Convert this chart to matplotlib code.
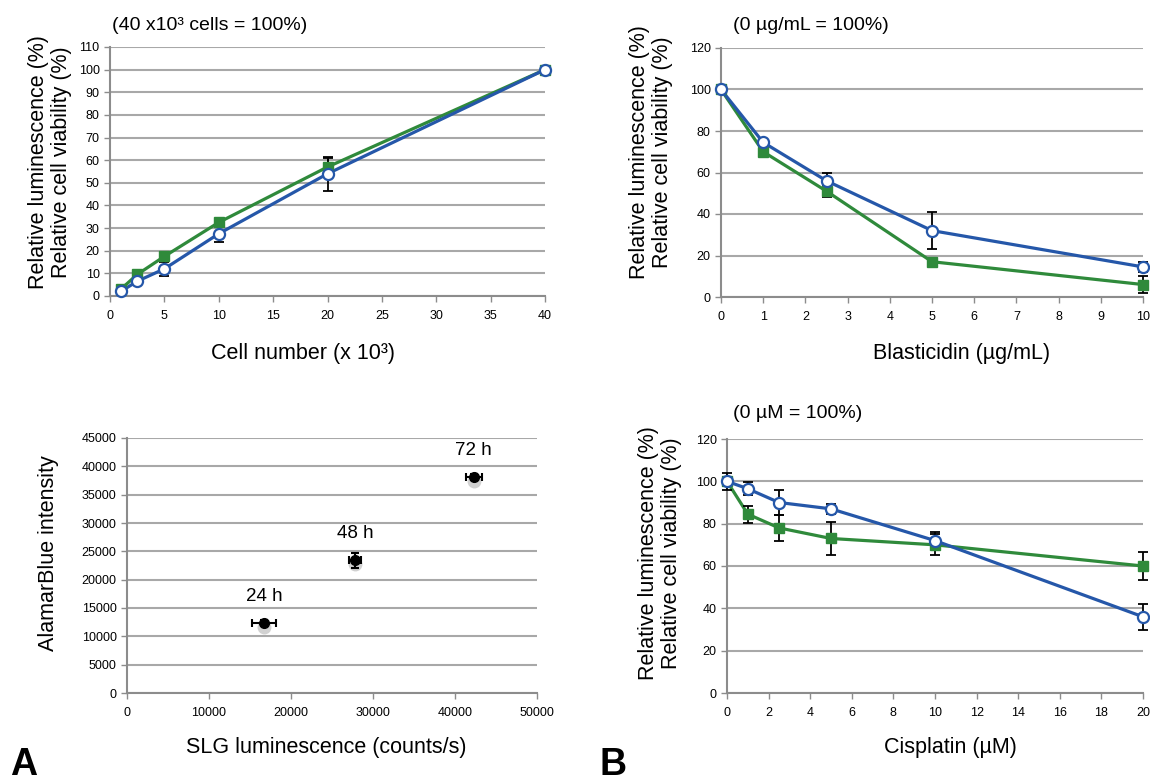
import matplotlib
matplotlib.use("Agg")
import matplotlib.pyplot as plt
from matplotlib.ticker import MultipleLocator

plt.rcParams['font.family'] = ['Liberation Sans', 'DejaVu Sans']

# Panel A top: cell number
cells = [1, 2.5, 5, 10, 20, 40]
cells_lum = [3, 9.5, 17.5, 32.5, 57, 100]
cells_lum_err = [0.5, 0.5, 1, 1, 4, 0]
cells_via = [2, 6.5, 12, 27.5, 54, 100]
cells_via_err = [0.5, 0.5, 3, 3.5, 7.5, 0]

# Panel A bottom: AlamarBlue vs SLG
hours = ["24 h", "48 h", "72 h"]
slg = [16700, 27800, 42300]
slg_err = [1500, 700, 950]
alamar = [12400, 23400, 38100]
alamar_err = [400, 1300, 500]

# Panel B top: blasticidin
blast = [0, 1, 2.5, 5, 10]
blast_lum = [100, 70, 51, 17, 6]
blast_lum_err = [0, 1, 3, 1, 4]
blast_via = [100, 74.5, 56, 32, 14.5]
blast_via_err = [0, 1, 4, 9, 2.5]

# Panel B bottom: cisplatin
cis = [0, 1, 2.5, 5, 10, 20]
cis_lum = [100, 84.5, 78, 73, 70, 60]
cis_lum_err = [2, 4, 6, 8, 5, 6.5]
cis_via = [100, 96.5, 90, 87, 72, 36]
cis_via_err = [4, 3, 6, 2.5, 4, 6]

GREEN = '#2f8a3b'
BLUE = '#2557a9'
GRID = '#a8a8a8'
W, H = 1150, 784
LAB = 15.5   # axis label size
TTL = 14     # note above panel

fig = plt.figure(figsize=(W / 100, H / 100), dpi=100)


def add_ax(l, t, r, b):
    return fig.add_axes([l / W, 1 - b / H, (r - l) / W, (b - t) / H])


def ftext(x, y, s, **kw):
    fig.text(x / W, 1 - y / H, s, **kw)


def style(ax):
    ax.grid(axis='y', color=GRID, lw=1.5)
    ax.set_axisbelow(True)
    for s in ['top', 'right']:
        ax.spines[s].set_visible(False)
    for s in ['left', 'bottom']:
        ax.spines[s].set_color('#8c8c8c')
        ax.spines[s].set_linewidth(1.5)
    ax.tick_params(color='#8c8c8c', labelcolor='black', labelsize=9,
                   length=4, width=1)
    ax.tick_params(axis='x', pad=6)


def two_series(ax, x, lum, lum_err, via, via_err):
    ax.plot(x, lum, '-', color=GREEN, lw=2.3, zorder=2, clip_on=False)
    ax.plot(x, via, '-', color=BLUE, lw=2.3, zorder=2, clip_on=False)
    ax.errorbar(x, lum, yerr=lum_err, fmt='none', ecolor='black',
                elinewidth=1.3, capsize=3.5, capthick=1.3, zorder=3, clip_on=False)
    ax.errorbar(x, via, yerr=via_err, fmt='none', ecolor='black',
                elinewidth=1.3, capsize=3.5, capthick=1.3, zorder=3, clip_on=False)
    ax.plot(x, lum, 's', color=GREEN, ms=7.5, zorder=4, clip_on=False)
    ax.plot(x, via, 'o', mfc='white', mec=BLUE, mew=1.6, ms=8, zorder=5,
            clip_on=False)


ylab = "Relative luminescence (%)\nRelative cell viability (%)"

# top left
ax1 = add_ax(110, 47, 545, 296)
style(ax1)
two_series(ax1, cells, cells_lum, cells_lum_err, cells_via, cells_via_err)
ax1.set_xlim(0, 40)
ax1.set_ylim(0, 110)
ax1.xaxis.set_major_locator(MultipleLocator(5))
ax1.yaxis.set_major_locator(MultipleLocator(10))
ftext(112, 25, "(40 x10³ cells = 100%)", fontsize=TTL, va='center')
ftext(303, 353, "Cell number (x 10³)", fontsize=LAB, ha='center', va='center')
ftext(50, 162, ylab, fontsize=LAB, rotation=90, ha='center', va='center',
      multialignment='center', linespacing=1.1)

# top right
ax2 = add_ax(721, 48, 1143, 297)
style(ax2)
two_series(ax2, blast, blast_lum, blast_lum_err, blast_via, blast_via_err)
ax2.set_xlim(0, 10)
ax2.set_ylim(0, 120)
ax2.xaxis.set_major_locator(MultipleLocator(1))
ax2.yaxis.set_major_locator(MultipleLocator(20))
ftext(733, 25, "(0 µg/mL = 100%)", fontsize=TTL, va='center')
ftext(962, 353, "Blasticidin (µg/mL)", fontsize=LAB, ha='center', va='center')
ftext(651, 152, ylab, fontsize=LAB, rotation=90, ha='center', va='center',
      multialignment='center', linespacing=1.1)

# bottom left
ax3 = add_ax(127, 438, 537, 693)
style(ax3)
ax3.plot(slg, [a - 700 for a in alamar], 'o', color='#999999', ms=10,
         alpha=0.45, zorder=2, mew=0)
ax3.errorbar(slg, alamar, xerr=slg_err, yerr=alamar_err, fmt='o', color='black',
             ms=7, elinewidth=1.5, capsize=3, capthick=1.5, zorder=3)
for lab, xv, yv in zip(hours, slg, alamar):
    ax3.text(xv, yv + 4700, lab, fontsize=13.5, ha='center', va='center')
ax3.set_xlim(0, 50000)
ax3.set_ylim(0, 45000)
ax3.xaxis.set_major_locator(MultipleLocator(10000))
ax3.yaxis.set_major_locator(MultipleLocator(5000))
ftext(326, 747, "SLG luminescence (counts/s)", fontsize=LAB, ha='center',
      va='center')
ftext(49, 553, "AlamarBlue intensity", fontsize=LAB, rotation=90, ha='center',
      va='center')

# bottom right
ax4 = add_ax(727, 439, 1143, 693)
style(ax4)
two_series(ax4, cis, cis_lum, cis_lum_err, cis_via, cis_via_err)
ax4.set_xlim(0, 20)
ax4.set_ylim(0, 120)
ax4.xaxis.set_major_locator(MultipleLocator(2))
ax4.yaxis.set_major_locator(MultipleLocator(20))
ftext(733, 414, "(0 µM = 100%)", fontsize=TTL, va='center')
ftext(950, 747, "Cisplatin (µM)", fontsize=LAB, ha='center', va='center')
ftext(660, 553, ylab, fontsize=LAB, rotation=90, ha='center', va='center',
      multialignment='center', linespacing=1.1)

# panel letters
ftext(10, 783, "A", fontsize=27, weight='bold', va='bottom')
ftext(600, 783, "B", fontsize=27, weight='bold', va='bottom')

fig.savefig("out.png", dpi=100)
